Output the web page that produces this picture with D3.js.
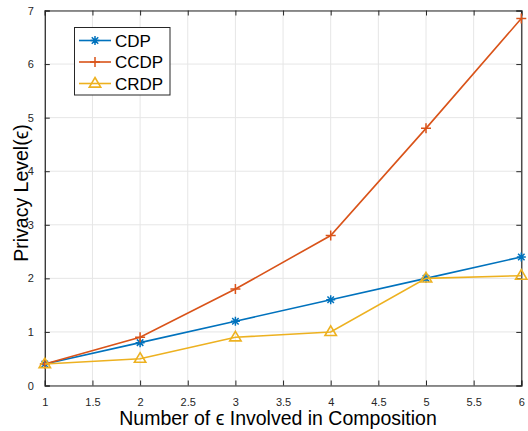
<!DOCTYPE html>
<html><head><meta charset="utf-8">
<script src="https://cdn.jsdelivr.net/npm/d3@7"></script>
<style>
html,body{margin:0;padding:0;background:#fff;}
svg{display:block;font-family:"Liberation Sans",Arial,Helvetica,sans-serif;}
</style></head>
<body><svg id="chart" width="528" height="431"></svg>
<script>
const compositions = [1, 2, 3, 4, 5, 6];
const cdp  = [0.4, 0.8, 1.2, 1.6, 2.0, 2.4];
const ccdp = [0.4, 0.9, 1.8, 2.8, 4.8, 6.85];
const crdp = [0.4, 0.5, 0.9, 1.0, 2.0, 2.05];
const xTicks = [1, 1.5, 2, 2.5, 3, 3.5, 4, 4.5, 5, 5.5, 6];
const yTicks = [0, 1, 2, 3, 4, 5, 6, 7];
const seriesNames = ["CDP", "CCDP", "CRDP"];
const seriesColors = ["#0072BD", "#D95319", "#EDB120"];
const seriesMarkers = ["star", "plus", "triangle"];

const svg = d3.select("#chart");
const m = {left: 44.8, right: 521.3, top: 10.5, bottom: 385.5};
const x = d3.scaleLinear().domain([1, 6]).range([m.left, m.right]);
const y = d3.scaleLinear().domain([0, 7]).range([m.bottom, m.top]);

// grid
const grid = svg.append("g");
grid.selectAll("line.gx").data(xTicks).join("line")
  .attr("x1", d => x(d)).attr("x2", d => x(d)).attr("y1", m.top).attr("y2", m.bottom)
  .attr("stroke", "#e6e6e6").attr("stroke-width", 1);
grid.selectAll("line.gy").data(yTicks).join("line")
  .attr("y1", d => y(d)).attr("y2", d => y(d)).attr("x1", m.left).attr("x2", m.right)
  .attr("stroke", "#e6e6e6").attr("stroke-width", 1);

// axes with inward ticks
const axisColor = "#262626";
const tickLen = 5;
const xAxis = svg.append("g").attr("transform", `translate(0,${m.bottom})`)
  .call(d3.axisBottom(x).tickValues(xTicks).tickSize(-tickLen).tickPadding(8 + tickLen).tickFormat(d3.format("")));
const xAxisTop = svg.append("g").attr("transform", `translate(0,${m.top})`)
  .call(d3.axisTop(x).tickValues(xTicks).tickSize(-tickLen).tickFormat(""));
const yAxis = svg.append("g").attr("transform", `translate(${m.left},0)`)
  .call(d3.axisLeft(y).tickValues(yTicks).tickSize(-tickLen).tickPadding(6 + tickLen).tickFormat(d3.format("")));
const yAxisRight = svg.append("g").attr("transform", `translate(${m.right},0)`)
  .call(d3.axisRight(y).tickValues(yTicks).tickSize(-tickLen).tickFormat(""));
[xAxis, xAxisTop, yAxis, yAxisRight].forEach(g => {
  g.select(".domain").attr("stroke", axisColor).attr("stroke-width", 1.2);
  g.selectAll(".tick line").attr("stroke", axisColor).attr("stroke-width", 1);
  g.selectAll(".tick text").attr("fill", "#262626").attr("font-size", 11)
   .attr("font-family", "'Liberation Sans',Arial,sans-serif");
});

// series
const allSeries = [cdp, ccdp, crdp];
const line = d3.line().x((d, i) => x(compositions[i])).y(d => y(d));

function drawMarker(g, type, cx, cy, color) {
  if (type === "star") {
    const r = 4.5;
    const p = d3.path();
    p.moveTo(cx - r, cy); p.lineTo(cx + r, cy);
    p.moveTo(cx, cy - r); p.lineTo(cx, cy + r);
    const d = r * 0.72;
    p.moveTo(cx - d, cy - d); p.lineTo(cx + d, cy + d);
    p.moveTo(cx - d, cy + d); p.lineTo(cx + d, cy - d);
    g.append("path").attr("d", p.toString()).attr("stroke", color).attr("stroke-width", 1.5).attr("fill", "none");
  } else if (type === "plus") {
    const r = 5;
    const p = d3.path();
    p.moveTo(cx - r, cy); p.lineTo(cx + r, cy);
    p.moveTo(cx, cy - r); p.lineTo(cx, cy + r);
    g.append("path").attr("d", p.toString()).attr("stroke", color).attr("stroke-width", 1.5).attr("fill", "none");
  } else {
    const r = 6;
    const pts = [[cx, cy - r], [cx + r * 0.95, cy + r * 0.6], [cx - r * 0.95, cy + r * 0.6]];
    g.append("path").attr("d", "M" + pts.join("L") + "Z").attr("stroke", color).attr("stroke-width", 1.6).attr("fill", "none");
  }
}

allSeries.forEach((vals, s) => {
  const g = svg.append("g");
  g.append("path").datum(vals).attr("d", line).attr("fill", "none")
    .attr("stroke", seriesColors[s]).attr("stroke-width", 1.6);
  vals.forEach((v, i) => drawMarker(g, seriesMarkers[s], x(compositions[i]), y(v), seriesColors[s]));
});

// legend
const lg = svg.append("g");
lg.append("rect").attr("x", 74.5).attr("y", 27.5).attr("width", 95.5).attr("height", 67.5)
  .attr("fill", "#fff").attr("stroke", "#262626").attr("stroke-width", 1);
seriesNames.forEach((name, s) => {
  const ly = 40.5 + s * 21.5;
  lg.append("line").attr("x1", 79).attr("x2", 111).attr("y1", ly).attr("y2", ly)
    .attr("stroke", seriesColors[s]).attr("stroke-width", 1.6);
  drawMarker(lg, seriesMarkers[s], 95, ly, seriesColors[s]);
  lg.append("text").attr("x", 115).attr("y", ly + 6).attr("font-size", 17)
    .attr("fill", "#000").text(name);
});

// axis titles
svg.append("text").attr("x", 278).attr("y", 425).attr("text-anchor", "middle")
  .attr("font-size", 19.5).attr("fill", "#000").text("Number of ϵ Involved in Composition");
svg.append("text").attr("transform", `translate(28,193) rotate(-90)`)
  .attr("text-anchor", "middle").attr("font-size", 19.5).attr("fill", "#000").text("Privacy Level(ϵ)");
</script>
</body></html>
